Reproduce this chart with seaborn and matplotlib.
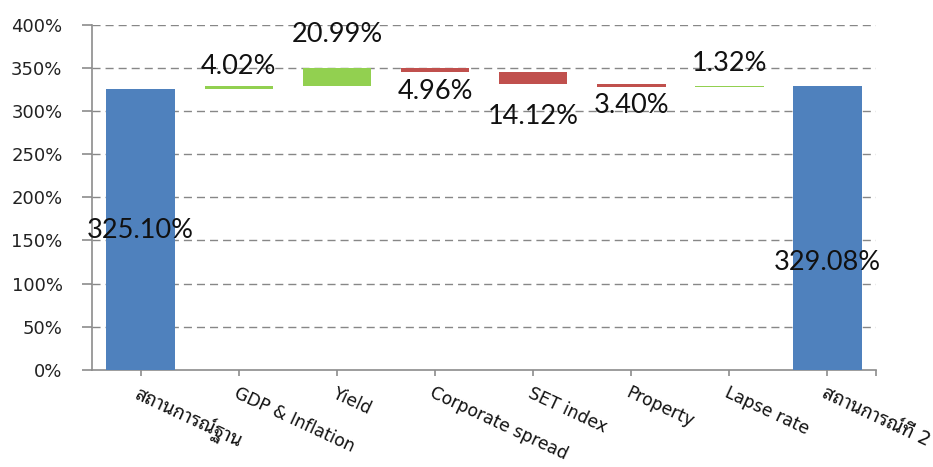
import numpy as np
import matplotlib
matplotlib.use("Agg")
import matplotlib.pyplot as plt
from matplotlib import font_manager
from matplotlib.ticker import FuncFormatter
import seaborn as sns

# ── data ────────────────────────────────────────────────────────────────
categories = ["สถานการณ์ฐาน", "GDP & Inflation", "Yield", "Corporate spread",
              "SET index", "Property", "Lapse rate", "สถานการณ์ที่ 2"]
start_total = 325.10
changes = [4.02, 20.99, -4.96, -14.12, -3.40, 1.32]
end_total = 329.08
y_ticks = [0, 50, 100, 150, 200, 250, 300, 350, 400]

# label centres (in %)
label_y = [162, 351, 389, 322, 293, 306, 355, 124]

BLUE, GREEN, RED = "#4F81BD", "#92D050", "#C0504D"

# ── waterfall geometry from the data ───────────────────────────────────
level = start_total + np.concatenate([[0], np.cumsum(changes)])
bottoms = [0.0]
heights = [start_total]
colors = [BLUE]
for i, d in enumerate(changes):
    bottoms.append(min(level[i], level[i + 1]))
    heights.append(abs(d))
    colors.append(GREEN if d > 0 else RED)
bottoms.append(0.0)
heights.append(end_total)
colors.append(BLUE)
values = [start_total] + [abs(c) for c in changes] + [end_total]

# ── fonts ──────────────────────────────────────────────────────────────
sns.set_style("white")
names = {f.name for f in font_manager.fontManager.ttflist}
thai = next((n for n in ["Noto Sans Thai Looped", "Sarabun", "Noto Sans Thai",
                         "Bai Jamjuree", "Athiti", "Anuphan"] if n in names), None)
fam = ["DejaVu Sans"] + ([thai] if thai else [])
plt.rcParams["font.family"] = fam
label_font = "Lato" if "Lato" in names else "DejaVu Sans"

fig = plt.figure(figsize=(9.33, 4.67), dpi=100)
ax = fig.add_axes([0.0983, 0.2077, 0.8411, 0.7398])

sns.barplot(x=categories, y=heights, bottom=bottoms, color=BLUE,
            width=0.7, linewidth=0, saturation=1, ax=ax, zorder=3)
for patch, c in zip(ax.patches, colors):
    patch.set_facecolor(c)
    patch.set_edgecolor("none")

for i, (v, yl) in enumerate(zip(values, label_y)):
    ax.text(i, yl, f"{v:.2f}%", ha="center", va="center",
            fontsize=19.5, family=label_font, color="#111111", zorder=4)

# ── axes styling ───────────────────────────────────────────────────────
ax.set_xlim(-0.5, len(categories) - 0.5)
ax.set_ylim(0, 400)
ax.set_yticks(y_ticks)
ax.yaxis.set_major_formatter(FuncFormatter(lambda v, p: f"{v:.0f}%"))
for y in y_ticks[1:]:
    ax.axhline(y, color="#878787", lw=1.0, ls=(0, (5.8, 3.6)), zorder=1)

for s in ["top", "right"]:
    ax.spines[s].set_visible(False)
for s in ["left", "bottom"]:
    ax.spines[s].set_color("#8C8C8C")
    ax.spines[s].set_linewidth(1.2)

ax.tick_params(axis="y", direction="out", length=7, width=1.2, color="#8C8C8C",
               labelsize=13, labelcolor="#222222", pad=14, left=True)
ax.tick_params(axis="x", which="both", direction="out", length=4, width=1.2,
               color="#8C8C8C", bottom=True, pad=6)
ax.set_xticks([len(categories) - 0.5], minor=True)
ax.set_xticks(range(len(categories)))
ax.set_xticklabels(categories, rotation=-25, ha="left", va="top",
                   rotation_mode="anchor", fontsize=12.3, color="#111111")
for t in ax.get_xticklabels():
    if any("\u0e00" <= ch <= "\u0e7f" for ch in t.get_text()):
        t.set_fontsize(13.5)
ax.set_xlabel("")
ax.set_ylabel("")

fig.savefig("out.png", dpi=100)
